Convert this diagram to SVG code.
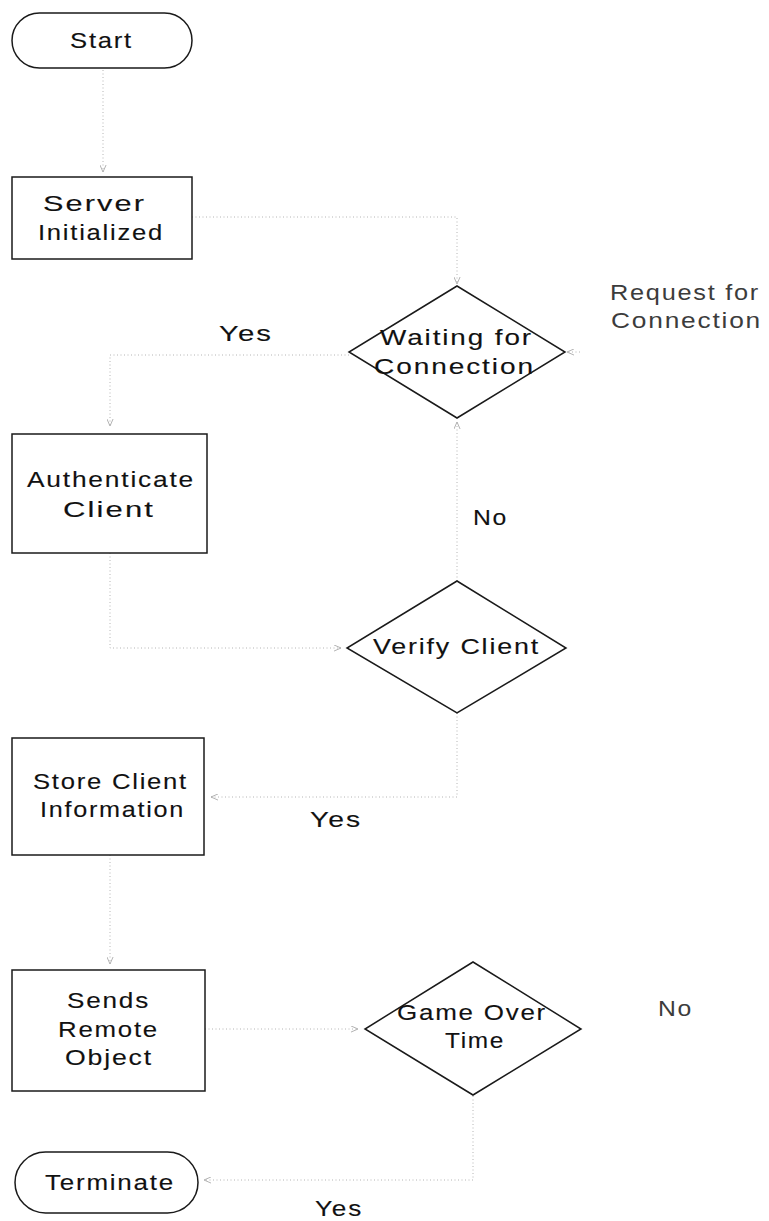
<svg xmlns="http://www.w3.org/2000/svg" width="769" height="1221" viewBox="0 0 769 1221">
  <style>
    .shape { fill: #ffffff; stroke: #1a1a1a; stroke-width: 1.5; }
    .lbl { font-family: "Liberation Sans", Arial, sans-serif; font-size: 22px; fill: #111111; stroke: #111111; stroke-width: 0.12; letter-spacing: 1.5px; }
    .soft { fill: #3c3c3c; stroke: none; }
    .conn { fill: none; stroke: #b4b4b4; stroke-width: 1; stroke-dasharray: 1 2.5; }
  </style>
  <defs>
    <marker id="arrow" viewBox="0 0 8 8" refX="8" refY="4" markerWidth="7" markerHeight="7" markerUnits="userSpaceOnUse" orient="auto">
      <path d="M0,0.5 L8,4 L0,7.5" fill="none" stroke="#a8a8a8" stroke-width="1"/>
    </marker>
  </defs>

  <rect width="769" height="1221" fill="#ffffff"/>

  <!-- connectors -->
  <g id="connectors">
    <path class="conn" d="M103,70 L103,172" marker-end="url(#arrow)"/>
    <path class="conn" d="M192,217 L457,217 L457,284" marker-end="url(#arrow)"/>
    <path class="conn" d="M580,352 L567,352" marker-end="url(#arrow)"/>
    <path class="conn" d="M349,355 L110,355 L110,426" marker-end="url(#arrow)"/>
    <path class="conn" d="M457,581 L457,422" marker-end="url(#arrow)"/>
    <path class="conn" d="M110,553 L110,648 L341,648" marker-end="url(#arrow)"/>
    <path class="conn" d="M457,713 L457,797 L211,797" marker-end="url(#arrow)"/>
    <path class="conn" d="M110,855 L110,964" marker-end="url(#arrow)"/>
    <path class="conn" d="M205,1029 L358,1029" marker-end="url(#arrow)"/>
    <path class="conn" d="M473,1096 L473,1180 L204,1180" marker-end="url(#arrow)"/>
  </g>

  <!-- edge labels -->
  <g id="edge-labels">
    <text class="lbl" x="219" y="341" textLength="54" lengthAdjust="spacingAndGlyphs">Yes</text>
    <text class="lbl" x="473" y="525" textLength="35" lengthAdjust="spacingAndGlyphs">No</text>
    <text class="lbl" x="310" y="827" textLength="52" lengthAdjust="spacingAndGlyphs">Yes</text>
    <text class="lbl soft" x="658" y="1016" textLength="35" lengthAdjust="spacingAndGlyphs">No</text>
    <text class="lbl" x="315" y="1216" textLength="48" lengthAdjust="spacingAndGlyphs">Yes</text>
    <text class="lbl soft" x="610" y="300" textLength="150" lengthAdjust="spacingAndGlyphs">Request for</text>
    <text class="lbl soft" x="611" y="328" textLength="151" lengthAdjust="spacingAndGlyphs">Connection</text>
  </g>

  <!-- nodes -->
  <g id="start">
    <rect class="shape" x="12" y="13" width="180" height="55" rx="27.5" ry="27.5"/>
    <text class="lbl" x="70" y="48" font-size="23" textLength="63" lengthAdjust="spacingAndGlyphs">Start</text>
  </g>

  <g id="server-initialized">
    <rect class="shape" x="12" y="177" width="180" height="82"/>
    <text class="lbl" x="43" y="211" textLength="103" lengthAdjust="spacingAndGlyphs">Server</text>
    <text class="lbl" x="38" y="240" textLength="126" lengthAdjust="spacingAndGlyphs">Initialized</text>
  </g>

  <g id="waiting-for-connection">
    <polygon class="shape" points="457,286 565,352 457,418 349,352"/>
    <text class="lbl" x="380" y="345" textLength="153" lengthAdjust="spacingAndGlyphs">Waiting for</text>
    <text class="lbl" x="374" y="374" textLength="161" lengthAdjust="spacingAndGlyphs">Connection</text>
  </g>

  <g id="authenticate-client">
    <rect class="shape" x="12" y="434" width="195" height="119"/>
    <text class="lbl" x="27" y="487" textLength="168" lengthAdjust="spacingAndGlyphs">Authenticate</text>
    <text class="lbl" x="63" y="517" textLength="92" lengthAdjust="spacingAndGlyphs">Client</text>
  </g>

  <g id="verify-client">
    <polygon class="shape" points="457,581 566,648 457,713 347,648"/>
    <text class="lbl" x="373" y="654" textLength="167" lengthAdjust="spacingAndGlyphs">Verify Client</text>
  </g>

  <g id="store-client-information">
    <rect class="shape" x="12" y="738" width="192" height="117"/>
    <text class="lbl" x="33" y="789" textLength="155" lengthAdjust="spacingAndGlyphs">Store Client</text>
    <text class="lbl" x="40" y="817" textLength="145" lengthAdjust="spacingAndGlyphs">Information</text>
  </g>

  <g id="sends-remote-object">
    <rect class="shape" x="12" y="970" width="193" height="121"/>
    <text class="lbl" x="67" y="1008" textLength="83" lengthAdjust="spacingAndGlyphs">Sends</text>
    <text class="lbl" x="58" y="1037" textLength="101" lengthAdjust="spacingAndGlyphs">Remote</text>
    <text class="lbl" x="65" y="1065" textLength="88" lengthAdjust="spacingAndGlyphs">Object</text>
  </g>

  <g id="game-over-time">
    <polygon class="shape" points="473,962 581,1029 473,1095 365,1029"/>
    <text class="lbl" x="397" y="1020" textLength="150" lengthAdjust="spacingAndGlyphs">Game Over</text>
    <text class="lbl" x="445" y="1048" textLength="60" lengthAdjust="spacingAndGlyphs">Time</text>
  </g>

  <g id="terminate">
    <rect class="shape" x="15" y="1152" width="183" height="61" rx="30.5" ry="30.5"/>
    <text class="lbl" x="45" y="1190" textLength="130" lengthAdjust="spacingAndGlyphs">Terminate</text>
  </g>
</svg>
